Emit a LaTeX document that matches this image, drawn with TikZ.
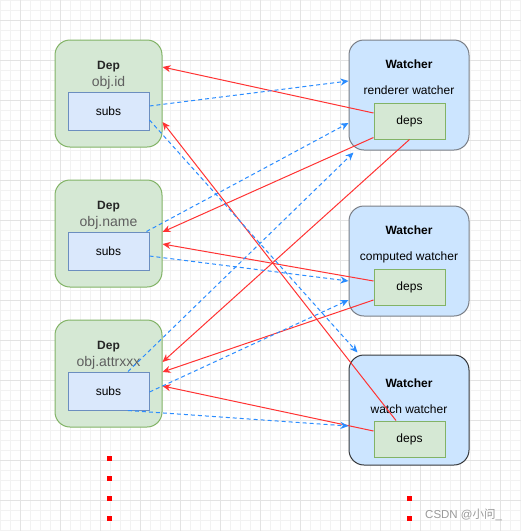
\documentclass[tikz,border=0pt]{standalone}
\usepackage{xcolor}
\usepackage{fontspec}
\setmainfont{Liberation Sans}
\newfontfamily\cjkfont{Noto Sans CJK SC}
\usepackage{tikz}
\usetikzlibrary{calc,arrows.meta}

\definecolor{depfill}{HTML}{D5E8D4}
\definecolor{depline}{HTML}{82B366}
\definecolor{subfill}{HTML}{DAE8FC}
\definecolor{subline}{HTML}{6C8EBF}
\definecolor{wfill}{HTML}{CCE5FF}
\definecolor{wline}{HTML}{7A7F87}
\definecolor{wdark}{HTML}{36393D}
\definecolor{redline}{HTML}{FF3333}
\definecolor{blueline}{HTML}{2A8CFF}
\definecolor{keygray}{HTML}{5F5F5F}

\begin{document}
\begin{tikzpicture}[x=1pt,y=-1pt,
    minorgrid/.style={draw=black!5,line width=0.6pt},
    majorgrid/.style={draw=black!11,line width=0.8pt},
    dep/.style={draw=depline,fill=depfill,rounded corners=15pt,line width=1pt,inner sep=0pt,minimum width=107pt,minimum height=107pt},
    subsbox/.style={draw=subline,fill=subfill,line width=1pt,inner sep=0pt,minimum width=81pt,minimum height=38pt,font=\fontsize{12}{14}\selectfont},
    watcher/.style={draw=wline,fill=wfill,rounded corners=15pt,line width=1pt,inner sep=0pt,minimum width=120pt,minimum height=110pt},
    depsbox/.style={draw=depline,fill=depfill,line width=1pt,inner sep=0pt,minimum width=71pt,minimum height=36pt,font=\fontsize{12}{14}\selectfont},
    depname/.style={anchor=base,inner sep=0pt,text=black!85,font=\bfseries\fontsize{12}{14}\selectfont},
    depkey/.style={anchor=base,inner sep=0pt,text=keygray,font=\fontsize{14}{16}\selectfont},
    wname/.style={anchor=base,inner sep=0pt,font=\bfseries\fontsize{12}{14}\selectfont},
    wkind/.style={anchor=base,inner sep=0pt,font=\fontsize{12}{14}\selectfont},
    redarrow/.style={draw=redline,line width=1pt,-{Stealth[length=8pt,width=7pt,inset=2.5pt]}},
    bluearrow/.style={draw=blueline,line width=1pt,dash pattern=on 4pt off 3pt,-{Stealth[length=8pt,width=7pt,inset=2.5pt]}}]
    \useasboundingbox (0,0) rectangle (521,531);
    \fill[white] (0,0) rectangle (521,531); % page
    \foreach \g in {0,10,...,530} \draw[minorgrid] (\g,0) -- (\g,531) (0,\g) -- (521,\g); % fine grid
    \foreach \g in {20,60,...,500} \draw[majorgrid] (\g,0) -- (\g,531) (0,\g) -- (521,\g); % coarse grid

    % deps of the reactive object
    \node[dep] (dep1) at (108.5,93.5) {};
    \node[depname] (dep1name) at (108.5,69.3) {Dep};
    \node[depkey] (dep1key) at (108.5,86.3) {obj.id};
    \node[subsbox] (subs1) at (108.5,111) {subs};

    \node[dep] (dep2) at (108.5,233.5) {};
    \node[depname] (dep2name) at (108.5,209.3) {Dep};
    \node[depkey] (dep2key) at (108.5,226.3) {obj.name};
    \node[subsbox] (subs2) at (108.5,251) {subs};

    \node[dep] (dep3) at (108.5,373.5) {};
    \node[depname] (dep3name) at (108.5,349.3) {Dep};
    \node[depkey] (dep3key) at (108.5,366.3) {obj.attrxxx};
    \node[subsbox] (subs3) at (108.5,391) {subs};

    % watchers
    \node[watcher] (w1) at (409,95) {};
    \node[wname] (w1name) at (409,68.7) {Watcher};
    \node[wkind] (w1kind) at (409,94.7) {renderer watcher};
    \node[depsbox] (deps1) at (409.5,121) {deps};

    \node[watcher] (w2) at (409,261) {};
    \node[wname] (w2name) at (409,234) {Watcher};
    \node[wkind] (w2kind) at (409,260.3) {computed watcher};
    \node[depsbox] (deps2) at (409.5,287) {deps};

    \node[watcher,draw=wdark] (w3) at (409,410) {};
    \node[wname] (w3name) at (409,387.7) {Watcher};
    \node[wkind] (w3kind) at (409,413.3) {watch watcher};
    \node[depsbox] (deps3) at (409.5,439) {deps};

    % watcher.deps -> dep
    \draw[redarrow] ($(deps1.west)+(0,-8)$) -- ($(dep1.east)+(0,-26.5)$);
    \draw[redarrow] ($(deps1.south west)+(0,-2)$) -- ($(dep2.east)+(0,-1.5)$);
    \draw[redarrow] (deps1.south) -- ($(dep3.east)+(0,-11.5)$);
    \draw[redarrow] ($(deps2.west)+(0,-6)$) -- ($(dep2.east)+(0,10.5)$);
    \draw[redarrow] ($(deps2.west)+(0,13)$) -- ($(dep3.east)+(0,-1.5)$);
    \draw[redarrow] ($(deps3.west)+(0,-8)$) -- ($(dep3.east)+(0,12.5)$);
    \draw[redarrow] ($(deps3.north)+(-13.5,0)$) -- ($(dep1.east)+(0,28.5)$);

    % dep.subs -> watcher
    \draw[bluearrow] ($(subs1.east)+(0,-5)$) -- ($(w1.west)+(0,-14)$);
    \draw[bluearrow] ($(subs1.east)+(0,9)$) -- ($(w3.north west)+(9,-2)$);
    \draw[bluearrow] ($(subs2.north east)+(-3,0)$) -- ($(w1.west)+(0,28)$);
    \draw[bluearrow] ($(subs2.east)+(0,5)$) -- ($(w2.west)+(0,20)$);
    \draw[bluearrow] ($(subs3.north)+(19.5,0)$) -- ($(w1.south west)+(5,2)$);
    \draw[bluearrow] ($(subs3.east)+(0,1)$) -- ($(w2.west)+(0,39)$);
    \draw[bluearrow] ($(subs3.south)+(19.5,0)$) -- ($(w3.west)+(0,16)$);

    % more deps / more watchers
    \foreach \y in {458,478,498,518} \fill[red] (106.5,\y-2.5) rectangle ++(5,5);
    \foreach \y in {498,518} \fill[red] (406.5,\y-2.5) rectangle ++(5,5);

    \node[anchor=base west,inner sep=0pt,text=black!40,font=\fontsize{11.5}{13}\selectfont] (mark) at (425,518.5) {CSDN @{\cjkfont 小问}\_};
\end{tikzpicture}
\end{document}
